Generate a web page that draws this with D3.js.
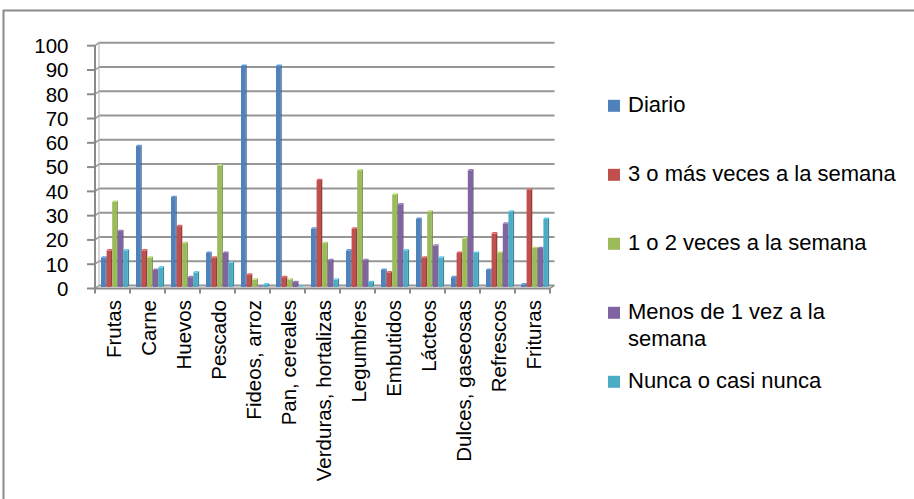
<!DOCTYPE html>
<html>
<head>
<meta charset="utf-8">
<script src="https://cdn.jsdelivr.net/npm/d3@7"></script>
<style>
  html, body { margin: 0; padding: 0; background: #fff; }
  svg { display: block; }
  text { font-family: "Liberation Sans", Arial, sans-serif; fill: #000; }
</style>
</head>
<body>
<svg id="chart" width="914" height="499"></svg>
<script>
// Food categories along the horizontal axis
const categories = ["Frutas", "Carne", "Huevos", "Pescado", "Fideos, arroz", "Pan, cereales",
  "Verduras, hortalizas", "Legumbres", "Embutidos", "Lácteos", "Dulces, gaseosas", "Refrescos", "Frituras"];

// Consumption frequency series (percent)
const seriesNames = ["Diario", "3 o más veces a la semana", "1 o 2 veces a la semana",
  "Menos de 1 vez a la semana", "Nunca o casi nunca"];
const diario     = [12, 58, 37, 14, 91, 91, 24, 15,  7, 28,  4,  7,  1];
const tresOMas   = [15, 15, 25, 12,  5,  4, 44, 24,  6, 12, 14, 22, 40];
const unoODos    = [35, 12, 18, 50,  3,  3, 18, 48, 38, 31, 20, 14, 16];
const menosDeUna = [23,  7,  4, 14,  0,  2, 11, 11, 34, 17, 48, 26, 16];
const nunca      = [15,  8,  6, 10,  1,  0,  3,  2, 15, 12, 14, 31, 28];
const yTicks = [0, 10, 20, 30, 40, 50, 60, 70, 80, 90, 100];

const seriesValues = [diario, tresOMas, unoODos, menosDeUna, nunca];
const colors = ["#4F81BD", "#C0504D", "#9BBB59", "#8064A2", "#4BACC6"];

const svg = d3.select("#chart");

// outer chart frame
svg.append("rect")
  .attr("x", 3.5).attr("y", 10.5).attr("width", 1000).attr("height", 1000)
  .attr("fill", "none").attr("stroke", "#8a8a8a").attr("stroke-width", 2);

// 3D depth offset between the front plane and the back wall
const depthX = 4, depthY = -3;

// back-wall vertical scale
const y = d3.scaleLinear().domain([0, 100]).range([285.5, 42.7]);
// front-plane category scale
const x0 = d3.scaleBand().domain(categories).range([95, 550]).paddingInner(0).paddingOuter(0);
const x1 = d3.scaleBand().domain(d3.range(seriesNames.length)).range([6, 34]);

const grid = svg.append("g");
// back wall gridlines plus their segment on the side wall
yTicks.forEach(t => {
  const yb = y(t);
  grid.append("line")
    .attr("x1", 95 + depthX).attr("x2", 550 + depthX + 0.5)
    .attr("y1", yb).attr("y2", yb)
    .attr("stroke", "#969696").attr("stroke-width", 2);
  grid.append("line")
    .attr("x1", 95).attr("y1", yb - depthY)
    .attr("x2", 95 + depthX).attr("y2", yb)
    .attr("stroke", "#969696").attr("stroke-width", 1.5);
});
// back wall left edge
grid.append("line")
  .attr("x1", 95 + depthX).attr("x2", 95 + depthX)
  .attr("y1", y(0)).attr("y2", y(100))
  .attr("stroke", "#b0b0b0").attr("stroke-width", 1);

// front vertical axis with ticks
const yAxisG = svg.append("g");
yAxisG.append("line")
  .attr("x1", 95).attr("x2", 95)
  .attr("y1", y(0) - depthY).attr("y2", y(100) - depthY)
  .attr("stroke", "#8a8a8a").attr("stroke-width", 2);
yTicks.forEach(t => {
  const yf = y(t) - depthY;
  yAxisG.append("line")
    .attr("x1", 87).attr("x2", 95).attr("y1", yf).attr("y2", yf)
    .attr("stroke", "#8a8a8a").attr("stroke-width", 2);
  yAxisG.append("text")
    .attr("x", 68.5).attr("y", yf).attr("dy", "0.36em")
    .attr("text-anchor", "end").attr("font-size", 20.5)
    .text(t);
});

// bars: front face, right side face and top face
const barsG = svg.append("g");
const faceW = 4.4, sideW = 1.3, topH = 1.4;
seriesValues.forEach((vals, s) => {
  const base = d3.color(colors[s]);
  const side = base.darker(0.7).formatHex();
  const top = base.brighter(0.5).formatHex();
  const g = barsG.append("g");
  vals.forEach((v, i) => {
    const xl = x0(categories[i]) + x1(s);
    const yTop = y(v);
    const yFloor = y(0) + 1.5;
    const fy = yTop + topH;
    // front face
    g.append("rect")
      .attr("x", xl).attr("y", Math.min(fy, yFloor))
      .attr("width", faceW).attr("height", Math.max(0, yFloor - fy))
      .attr("fill", colors[s]);
    // side face
    g.append("path")
      .attr("d", `M${xl + faceW},${fy} L${xl + faceW + sideW},${yTop} L${xl + faceW + sideW},${yFloor - topH} L${xl + faceW},${yFloor} Z`)
      .attr("fill", side);
    // top face
    g.append("path")
      .attr("d", `M${xl},${fy} L${xl + sideW},${yTop} L${xl + faceW + sideW},${yTop} L${xl + faceW},${fy} Z`)
      .attr("fill", top);
  });
});

// floor: front axis line with category ticks, plus right edge going back
const xAxisG = svg.append("g");
const yFront = y(0) - depthY;
xAxisG.append("line")
  .attr("x1", 95).attr("x2", 550).attr("y1", yFront).attr("y2", yFront)
  .attr("stroke", "#8a8a8a").attr("stroke-width", 2);
xAxisG.append("line")
  .attr("x1", 550).attr("y1", yFront).attr("x2", 550 + depthX).attr("y2", y(0))
  .attr("stroke", "#8a8a8a").attr("stroke-width", 1.5);
categories.concat([null]).forEach((c, i) => {
  const xt = c === null ? 550 : x0(c);
  xAxisG.append("line")
    .attr("x1", xt).attr("x2", xt).attr("y1", yFront).attr("y2", yFront + 5)
    .attr("stroke", "#8a8a8a").attr("stroke-width", 2);
});
categories.forEach(c => {
  const cx = x0(c) + x0.bandwidth() / 2 + 1.5;
  xAxisG.append("text")
    .attr("transform", `translate(${cx},300) rotate(-90)`)
    .attr("dy", "0.36em")
    .attr("text-anchor", "end").attr("font-size", 20.5)
    .text(c);
});

// legend
const legend = svg.append("g");
const maxLegendWidth = 275;
seriesNames.forEach((name, i) => {
  const baseline = 112.3 + i * 69;
  legend.append("rect")
    .attr("x", 608).attr("y", baseline - 12.5).attr("width", 12).attr("height", 12)
    .attr("fill", colors[i]);
  const t = legend.append("text")
    .attr("x", 628).attr("y", baseline).attr("font-size", 22);
  // greedy word wrap inside the legend column
  const words = name.split(" ");
  let line = [];
  let tspan = t.append("tspan").attr("x", 628).attr("dy", 0);
  words.forEach(w => {
    line.push(w);
    tspan.text(line.join(" "));
    if (tspan.node().getComputedTextLength() > maxLegendWidth && line.length > 1) {
      line.pop();
      tspan.text(line.join(" "));
      line = [w];
      tspan = t.append("tspan").attr("x", 628).attr("dy", 26.7).text(w);
    }
  });
});
</script>
</body>
</html>
